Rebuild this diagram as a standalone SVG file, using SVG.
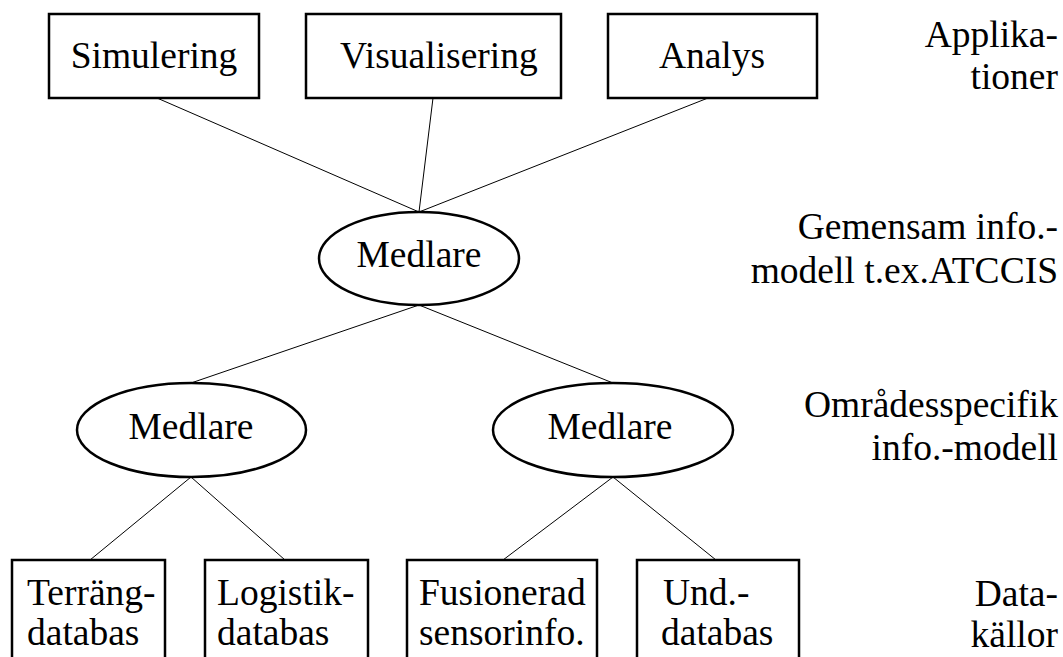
<svg xmlns="http://www.w3.org/2000/svg" width="1063" height="657" viewBox="0 0 1063 657">
<style>
  .node { fill: #fff; stroke: #000; stroke-width: 2.5; }
  .edge { stroke: #000; stroke-width: 1; fill: none; }
  .t { font-family: "Liberation Serif", "Times New Roman", serif; font-size: 37.5px; fill: #000; }
  .c { text-anchor: middle; }
  .r { text-anchor: end; }
</style>
<rect width="1063" height="657" fill="#fff"/>
<g id="connectors">
  <line class="edge" x1="157" y1="98" x2="419" y2="212"/>
  <line class="edge" x1="433" y1="98" x2="419" y2="212"/>
  <line class="edge" x1="708" y1="98" x2="419" y2="212"/>
  <line class="edge" x1="419" y1="305" x2="191" y2="383"/>
  <line class="edge" x1="419" y1="305" x2="613" y2="383"/>
  <line class="edge" x1="191" y1="477" x2="90" y2="560"/>
  <line class="edge" x1="191" y1="477" x2="285" y2="560"/>
  <line class="edge" x1="613" y1="477" x2="503" y2="560"/>
  <line class="edge" x1="613" y1="477" x2="716" y2="560"/>
</g>
<g id="simulering">
  <rect class="node" x="49" y="14" width="210" height="84"/>
  <text class="t c" x="154" y="68">Simulering</text>
</g>
<g id="visualisering">
  <rect class="node" x="306" y="14" width="255" height="84"/>
  <text class="t" x="340" y="68">Visualisering</text>
</g>
<g id="analys">
  <rect class="node" x="608" y="14" width="209" height="84"/>
  <text class="t c" x="712" y="68">Analys</text>
</g>
<g id="medlare-top">
  <ellipse class="node" cx="419" cy="258.5" rx="100" ry="46.5"/>
  <text class="t c" x="419" y="267">Medlare</text>
</g>
<g id="medlare-left">
  <ellipse class="node" cx="191.5" cy="430" rx="114.5" ry="47"/>
  <text class="t c" x="191" y="439">Medlare</text>
</g>
<g id="medlare-right">
  <ellipse class="node" cx="613" cy="430" rx="120" ry="47"/>
  <text class="t c" x="610" y="439">Medlare</text>
</g>
<g id="terrang">
  <rect class="node" x="12" y="560" width="153" height="120"/>
  <text class="t" x="27" y="605">Terräng-</text>
  <text class="t" x="27" y="645">databas</text>
</g>
<g id="logistik">
  <rect class="node" x="205" y="560" width="163" height="120"/>
  <text class="t" x="217" y="605">Logistik-</text>
  <text class="t" x="217" y="645">databas</text>
</g>
<g id="fusionerad">
  <rect class="node" x="407" y="560" width="190" height="120"/>
  <text class="t" x="419" y="605">Fusionerad</text>
  <text class="t" x="419" y="645">sensorinfo.</text>
</g>
<g id="und">
  <rect class="node" x="637" y="560" width="162" height="120"/>
  <text class="t" x="663" y="605">Und.-</text>
  <text class="t" x="661" y="645">databas</text>
</g>
<g id="labels">
  <text class="t r" x="1058" y="47">Applika-</text>
  <text class="t r" x="1058" y="89">tioner</text>
  <text class="t r" x="1058" y="239">Gemensam info.-</text>
  <text class="t r" x="1058" y="283">modell t.ex.ATCCIS</text>
  <text class="t r" x="1058" y="417">Områdesspecifik</text>
  <text class="t r" x="1058" y="460">info.-modell</text>
  <text class="t r" x="1058" y="606">Data-</text>
  <text class="t r" x="1058" y="647">källor</text>
</g>
</svg>
